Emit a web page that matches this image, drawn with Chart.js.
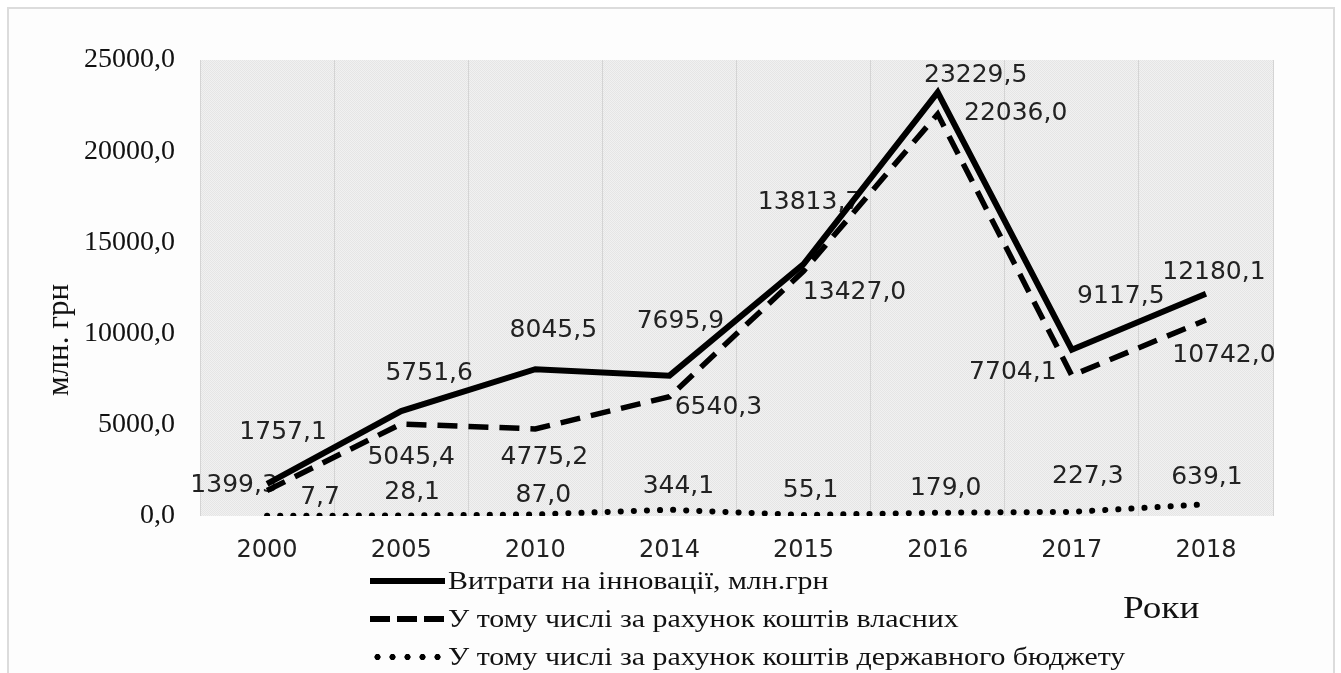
<!DOCTYPE html>
<html>
<head>
<meta charset="utf-8">
<script src="https://cdn.jsdelivr.net/npm/chart.js@4.4.1/dist/chart.umd.min.js"></script>
<style>
  body { margin: 0; width: 1341px; height: 673px; overflow: hidden; position: relative; background: #fff; font-family: "Liberation Serif", serif; }
  #frame { position: absolute; left: 7px; top: 7px; width: 1324px; height: 700px; border: 2px solid #dcdcdc; background: #fdfdfd; }
  #chart { position: absolute; left: 0; top: 0; }
  #legend { position: absolute; left: 370px; top: 562px; margin: 0; padding: 0; list-style: none; }
  #legend li { height: 38px; display: flex; align-items: center; }
  #legend .sample { width: 75px; height: 8px; flex: none; margin-right: 3px; }
  #legend .txt { font-size: 26px; color: #111; transform: scaleX(1.15); transform-origin: left center; white-space: nowrap; }
  .s-solid { background: linear-gradient(#000, #000) center / 100% 6px no-repeat; }
  .s-dash { background: repeating-linear-gradient(90deg, #000 0 20px, transparent 20px 27px) center / 100% 6px no-repeat; }
  .s-dot { background: radial-gradient(circle, #000 2.8px, transparent 3.4px) left center / 15px 8px repeat-x; }
  #ytitle { position: absolute; left: 58px; top: 340px; font-size: 31px; color: #111; transform: translate(-50%, -50%) rotate(-90deg); white-space: nowrap; }
  #xtitle { position: absolute; left: 1123px; top: 590px; font-size: 31px; color: #111; transform: scaleX(1.2); transform-origin: left center; }
</style>
</head>
<body>
<div id="frame"></div>
<canvas id="chart" width="1341" height="673"></canvas>
<div id="ytitle">млн. грн</div>
<div id="xtitle">Роки</div>
<ul id="legend"></ul>
<script>
// Innovation spending in Ukraine, mln UAH
const years = ["2000", "2005", "2010", "2014", "2015", "2016", "2017", "2018"];
const totalSpend = [1757.1, 5751.6, 8045.5, 7695.9, 13813.7, 23229.5, 9117.5, 12180.1];
const ownFunds = [1399.3, 5045.4, 4775.2, 6540.3, 13427.0, 22036.0, 7704.1, 10742.0];
const budgetFunds = [7.7, 28.1, 87.0, 344.1, 55.1, 179.0, 227.3, 639.1];
const seriesNames = [
  "Витрати на інновації, млн.грн",
  "У тому числі за рахунок коштів власних",
  "У тому числі за рахунок коштів державного бюджету",
];

// where each value label sits relative to its point (px)
const labelShift = [
  [[16, -51], [28, -38], [18, -39], [11, -54], [6, -62], [38, -17], [49, -53], [8, -21]],
  [[-33, -5], [10, 34], [9, 29], [49, 11], [51, 21], [78, -1], [-59, -3], [18, 35]],
  [[53, -18], [11, -23], [8, -19], [9, -23], [7, -24], [8, -24], [16, -35], [1, -27]],
];

function fmt(v) {
  return v.toFixed(1).replace(".", ",");
}

// textured grey plot background
const plotBg = {
  id: "plotBg",
  beforeDraw(chart) {
    const { ctx, chartArea: a } = chart;
    const tile = document.createElement("canvas");
    tile.width = 2;
    tile.height = 2;
    const t = tile.getContext("2d");
    t.fillStyle = "#f1f1f1";
    t.fillRect(0, 0, 2, 2);
    t.fillStyle = "#e5e5e5";
    t.fillRect(0, 0, 1, 1);
    t.fillRect(1, 1, 1, 1);
    ctx.save();
    ctx.fillStyle = ctx.createPattern(tile, "repeat");
    ctx.fillRect(a.left, a.top, a.right - a.left, a.bottom - a.top);
    ctx.restore();
  },
};

// value labels, drawn under the lines
const valueLabels = {
  id: "valueLabels",
  beforeDatasetsDraw(chart) {
    const ctx = chart.ctx;
    ctx.save();
    ctx.font = '25px "DejaVu Sans"';
    ctx.fillStyle = "#222";
    ctx.textAlign = "center";
    ctx.textBaseline = "middle";
    chart.data.datasets.forEach((ds, i) => {
      chart.getDatasetMeta(i).data.forEach((pt, j) => {
        const s = labelShift[i][j];
        ctx.fillText(fmt(ds.data[j]), pt.x + s[0], pt.y + s[1]);
      });
    });
    ctx.restore();
  },
};

// legend as html list, one series per row
const htmlLegend = {
  id: "htmlLegend",
  afterUpdate(chart) {
    const ul = document.getElementById("legend");
    ul.innerHTML = "";
    const classes = ["s-solid", "s-dash", "s-dot"];
    chart.options.plugins.legend.labels.generateLabels(chart).forEach((item) => {
      const li = document.createElement("li");
      const sample = document.createElement("span");
      sample.className = "sample " + classes[item.datasetIndex];
      const txt = document.createElement("span");
      txt.className = "txt";
      txt.textContent = item.text;
      li.appendChild(sample);
      li.appendChild(txt);
      ul.appendChild(li);
    });
  },
};

const ctx = document.getElementById("chart").getContext("2d");
new Chart(ctx, {
  type: "line",
  data: {
    labels: years,
    datasets: [
      {
        label: seriesNames[0],
        data: totalSpend,
        borderColor: "#000",
        borderWidth: 6,
        pointRadius: 0,
        tension: 0,
      },
      {
        label: seriesNames[1],
        data: ownFunds,
        borderColor: "#000",
        borderWidth: 5.5,
        borderDash: [20, 11],
        pointRadius: 0,
        tension: 0,
      },
      {
        label: seriesNames[2],
        data: budgetFunds,
        borderColor: "#000",
        borderWidth: 6,
        borderDash: [0.1, 13],
        borderCapStyle: "round",
        pointRadius: 0,
        tension: 0,
      },
    ],
  },
  options: {
    responsive: false,
    animation: false,
    layout: { padding: { top: 60, right: 68, left: 0, bottom: 0 } },
    plugins: {
      legend: { display: false },
      tooltip: { enabled: false },
    },
    scales: {
      x: {
        offset: true,
        afterFit: (scale) => { scale.height = 157; },
        grid: { offset: true, color: "#d4d4d4", lineWidth: 1, drawTicks: false },
        border: { display: false },
        ticks: { padding: 20, color: "#222", font: { family: "DejaVu Sans", size: 24 } },
      },
      y: {
        min: 0,
        max: 25000,
        afterFit: (scale) => { scale.width = 200; },
        grid: { display: false, drawTicks: false },
        border: { display: false },
        ticks: {
          stepSize: 5000,
          padding: 25,
          color: "#111",
          font: { family: "Liberation Serif", size: 28 },
          callback: (v) => fmt(v),
        },
      },
    },
  },
  plugins: [plotBg, valueLabels, htmlLegend],
});
</script>
</body>
</html>
